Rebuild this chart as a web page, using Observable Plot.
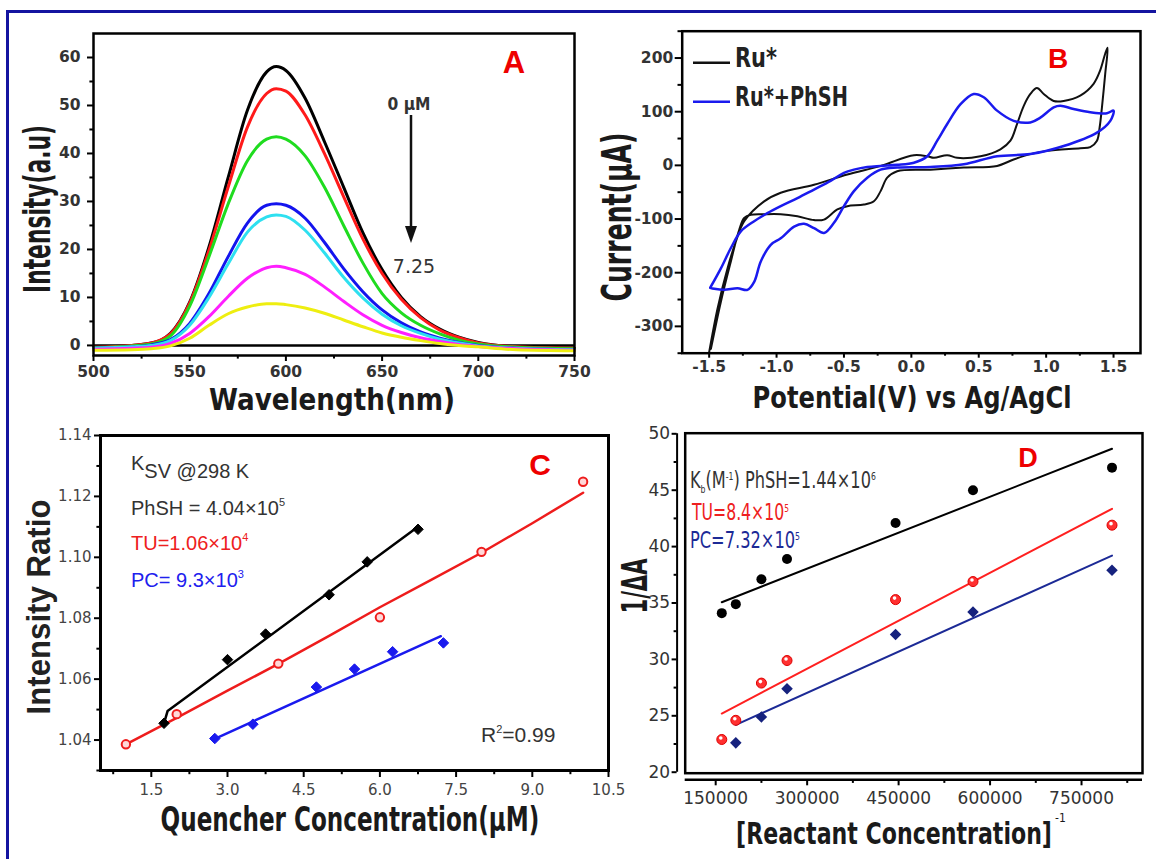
<!DOCTYPE html>
<html><head><meta charset="utf-8">
<script src="https://cdn.jsdelivr.net/npm/d3@7"></script>
<script src="https://cdn.jsdelivr.net/npm/@observablehq/plot@0.6"></script>
<style>
html,body{margin:0;padding:0;background:#fff;}
#page{position:relative;width:1156px;height:859px;overflow:hidden;background:#fff;}
#page svg{position:absolute;left:0;top:0;}
#border{position:absolute;left:6px;top:10px;width:1200px;height:900px;border-left:3px solid #1414a0;border-top:3px solid #1414a0;}
</style></head>
<body><div id="page"><div id="border"></div></div>
<script>
// ---------- Panel A : emission spectra ----------
const wavelengths = [500,520,530,540,550,560,570,580,590,595,600,610,620,630,640,650,660,670,680,690,700,720,750];
const specBlack   = [-0.4,0,0.5,2.5,9,20.5,35,49,57,58.1,57.3,51.5,42.5,33,23.5,15.8,10,6,3.4,1.7,0.6,-0.3,-0.6];
const specRed     = [-0.4,0,0.5,2.4,8.8,19.8,33,45.5,52.5,53.5,53,48,40,31,22.2,15,9.6,5.8,3.2,1.6,0.5,-0.3,-0.6];
const specGreen   = [-0.5,-0.1,0.3,2,8.2,18.5,29.5,38.5,43,43.5,43,39.5,33,25,17.2,10.8,6.8,4.2,2.4,1.1,0.3,-0.4,-0.7];
const specBlue    = [-0.6,-0.3,0.1,1.2,4.6,10.8,18.5,25.5,29.2,29.5,29.2,26.5,21.5,16,11.2,7.4,4.7,2.8,1.5,0.6,0,-0.6,-0.9];
const specCyan    = [-0.6,-0.3,0,1,4.2,10,17,23.6,26.8,27.2,26.9,24,19.3,14.2,9.9,6.5,4.1,2.5,1.3,0.5,-0.1,-0.6,-0.9];
const specMagenta = [-0.8,-0.6,-0.4,0.4,2.5,6,10.2,14,16.2,16.5,16.2,14.8,12.2,9.2,6.4,4.2,2.7,1.6,0.8,0.2,-0.2,-0.7,-1];
const specYellow  = [-1,-0.9,-0.7,-0.1,1.5,4.2,6.6,8,8.7,8.7,8.5,7.8,6.7,5.3,3.9,2.6,1.7,1,0.4,0,-0.3,-0.9,-1.1];
const specColors  = ["#000000","#ff1a1a","#1fdc1f","#1414ee","#2ee0f0","#ff1fff","#eeee10"];
const aXTicks = [500,550,600,650,700,750];
const aXMinor = [525,575,625,675,725];
const aYTicks = [0,10,20,30,40,50,60];
const aYMinor = [5,15,25,35,45,55];

// ---------- Panel B : cyclic voltammograms ----------
const cvRuV = [-1.50,-1.438,-1.364,-1.302,-1.240,-1.092,-0.969,-0.722,-0.475,-0.228,0.019,0.118,0.167,0.266,0.340,0.513,0.661,0.735,0.784,0.834,0.883,0.932,0.982,1.056,1.130,1.253,1.352,1.401,1.438,1.456,1.438,1.414,1.397,1.377,1.327,1.253,1.006,0.883,0.759,0.636,0.389,0.142,-0.105,-0.179,-0.228,-0.278,-0.352,-0.475,-0.549,-0.648,-0.722,-0.845,-0.969,-1.092,-1.191,-1.240,-1.277,-1.339,-1.413,-1.487];
const cvRuI = [-348,-267,-192,-142,-104,-67,-51,-36,-17,-1,19,17,14,19,14,17,30,46,77,111,133,144,133,120,120,130,152,177,208,219,170,108,71,46,34,32,27,21,11,-1,-4,-8,-11,-23,-48,-67,-73,-76,-82,-101,-102,-95,-91,-91,-92,-98,-120,-179,-254,-342];
const cvPhV = [-1.492,-1.413,-1.339,-1.265,-1.166,-1.068,-0.969,-0.845,-0.722,-0.599,-0.500,-0.426,-0.327,-0.228,-0.105,0.019,0.118,0.192,0.266,0.365,0.463,0.537,0.636,0.759,0.883,0.957,1.056,1.105,1.204,1.327,1.451,1.500,1.476,1.377,1.130,0.883,0.636,0.389,0.142,-0.105,-0.228,-0.327,-0.426,-0.500,-0.574,-0.648,-0.722,-0.796,-0.870,-0.969,-1.043,-1.117,-1.166,-1.216,-1.290,-1.388,-1.462,-1.492];
const cvPhI = [-228,-192,-154,-123,-104,-89,-76,-61,-45,-29,-14,-8,-3,-1,1,5,17,46,77,114,133,127,102,83,80,89,108,111,105,99,97,102,83,61,36,21,17,2,-3,-4,-8,-23,-48,-76,-107,-126,-117,-109,-114,-136,-148,-179,-217,-232,-229,-232,-230,-228];
const bXTicks = [-1.5,-1.0,-0.5,0.0,0.5,1.0,1.5];
const bXMinor = [-1.25,-0.75,-0.25,0.25,0.75,1.25];
const bYTicks = [-300,-200,-100,0,100,200];
const bYMinor = [-350,-250,-150,-50,50,150,250];

// ---------- Panel C : Stern-Volmer ----------
const cPhSHx = [1.75,3.0,3.75,5.0,5.75,6.75];
const cPhSHy = [1.0455,1.0664,1.0748,1.0877,1.0985,1.1092];
const cTUx   = [1.0,2.0,4.0,6.0,8.0,10.0];
const cTUy   = [1.0386,1.0485,1.0651,1.0803,1.1018,1.1248];
const cPCx   = [2.75,3.5,4.75,5.5,6.25,7.25];
const cPCy   = [1.0405,1.0452,1.0574,1.0633,1.0690,1.0719];
const cFitPhSHx = [1.75,1.82,6.75];
const cFitPhSHy = [1.0455,1.0495,1.1100];
const cFitTUx = [1.0,2.0,3.0,4.0,5.0,6.0,7.0,8.0,9.0,10.0];
const cFitTUy = [1.0386,1.0473,1.0562,1.0650,1.0742,1.0836,1.0925,1.1015,1.1112,1.1212];
const cFitPCx = [2.76,7.2];
const cFitPCy = [1.0405,1.0741];
const cXTicks = [1.5,3.0,4.5,6.0,7.5,9.0,10.5];
const cXMinor = [0.75,2.25,3.75,5.25,6.75,8.25,9.75];
const cYTicks = [1.04,1.06,1.08,1.10,1.12,1.14];
const cYMinor = [1.03,1.05,1.07,1.09,1.11,1.13];

// ---------- Panel D : Benesi-Hildebrand ----------
const dX     = [160000,183000,225000,267000,445000,572000,800000];
const dPhSH  = [34.1,34.9,37.1,38.9,42.1,45.0,47.0];
const dTU    = [22.9,24.6,27.9,29.9,35.3,36.9,41.9];
const dPCx   = [183000,225000,267000,445000,572000,800000];
const dPC    = [22.6,24.9,27.4,32.2,34.2,37.9];
const dFitPhSHx = [160000,800000], dFitPhSHy = [35.07,48.67];
const dFitTUx   = [160000,800000], dFitTUy   = [25.2,43.35];
const dFitPCx   = [183000,800000], dFitPCy   = [24.2,39.2];
const dXTicks = [150000,300000,450000,600000,750000];
const dXMinor = [225000,375000,525000,675000,825000];
const dYTicks = [20,25,30,35,40,45,50];
const dYMinor = [22.5,27.5,32.5,37.5,42.5,47.5];

// ---------- helpers ----------
const W = 1156, H = 859;
const SANS = "'DejaVu Sans', 'Liberation Sans', Arial, sans-serif";
const ARIAL = "'Liberation Sans', Arial, sans-serif";
const COND = "'DejaVu Sans Condensed', 'DejaVu Sans', sans-serif";
const hyph = s => s.replace(/\u2212/g, "-");
const f1 = v => hyph(d3.format(".1f")(v));
const f2 = v => hyph(d3.format(".2f")(v));
const fi = v => hyph(String(v));
const rows = (xs, ys) => xs.map((x, i) => ({x, y: ys[i]}));
const diamond = {draw(ctx, size) { const r = Math.sqrt(size / 2); ctx.moveTo(0, -r); ctx.lineTo(r, 0); ctx.lineTo(0, r); ctx.lineTo(-r, 0); ctx.closePath(); }};
const baseStyle = {background: "none", overflow: "visible", fontFamily: SANS};
function axes(xT, xM, yT, yM, o) {
  return [
    Plot.axisX(xT, {anchor: "bottom", tickSize: o.xts, tickPadding: o.xtp, tickFormat: o.xf, fontSize: o.fs, fontWeight: o.fw, fontFamily: SANS, fill: o.fill, stroke: "#000", strokeWidth: o.sw, label: null}),
    Plot.axisX(xM, {anchor: "bottom", tickSize: o.xts * 0.6, tickFormat: () => "", stroke: "#000", strokeWidth: o.sw, label: null}),
    Plot.axisY(yT, {anchor: "left", tickSize: o.yts, tickPadding: o.ytp, tickFormat: o.yf, fontSize: o.fs, fontWeight: o.fw, fontFamily: SANS, fill: o.fill, stroke: "#000", strokeWidth: o.sw, label: null}),
    Plot.axisY(yM, {anchor: "left", tickSize: o.yts * 0.6, tickFormat: () => "", stroke: "#000", strokeWidth: o.sw, label: null})
  ];
}
const page = document.getElementById("page");

// ---------- Panel A ----------
const spectra = [specBlack, specRed, specGreen, specBlue, specCyan, specMagenta, specYellow];
const plotA = Plot.plot({
  width: W, height: H, marginLeft: 93, marginRight: W - 574, marginTop: 33, marginBottom: H - 355,
  style: baseStyle,
  x: {domain: [500, 750], label: null},
  y: {domain: [-2.1, 65], label: null},
  marks: [
    Plot.ruleY([0], {stroke: "#000", strokeWidth: 2.5}),
    ...spectra.map((s, k) => Plot.line(rows(wavelengths, s), {x: "x", y: "y", stroke: specColors[k], strokeWidth: 3, curve: "monotone-x"})),
    Plot.frame({stroke: "#000", strokeWidth: 2.5}),
    ...axes(aXTicks, aXMinor, aYTicks, aYMinor, {xts: 6, xtp: 4, yts: 6, ytp: 7, xf: fi, yf: fi, fs: 15.5, fw: "bold", fill: "#333", sw: 2})
  ]
});
page.appendChild(plotA);

// ---------- Panel B ----------
const plotB = Plot.plot({
  width: W, height: H, marginLeft: 681.7, marginRight: W - 1140, marginTop: 30.7, marginBottom: H - 352.7,
  style: baseStyle,
  x: {domain: [-1.7, 1.7], label: null},
  y: {domain: [-350, 250], label: null},
  marks: [
    Plot.line(rows(cvRuV, cvRuI), {x: "x", y: "y", stroke: "#111", strokeWidth: 2, curve: "catmull-rom"}),
    Plot.line(rows(cvPhV, cvPhI), {x: "x", y: "y", stroke: "#1a1aee", strokeWidth: 2.5, curve: "catmull-rom"}),
    Plot.frame({stroke: "#000", strokeWidth: 2.5}),
    ...axes(bXTicks, bXMinor, bYTicks, bYMinor, {xts: 5, xtp: 3, yts: 7, ytp: 2, xf: f1, yf: fi, fs: 15.5, fw: "bold", fill: "#333", sw: 2})
  ]
});
page.appendChild(plotB);

// ---------- Panel C ----------
const plotC = Plot.plot({
  width: W, height: H, marginLeft: 100, marginRight: W - 608, marginTop: 435, marginBottom: H - 770,
  style: baseStyle,
  x: {domain: [0.5, 10.5], label: null},
  y: {domain: [1.03, 1.14], label: null},
  marks: [
    Plot.line(rows(cFitPhSHx, cFitPhSHy), {x: "x", y: "y", stroke: "#000", strokeWidth: 2.5}),
    Plot.line(rows(cFitTUx, cFitTUy), {x: "x", y: "y", stroke: "#ee1c1c", strokeWidth: 2.5}),
    Plot.line(rows(cFitPCx, cFitPCy), {x: "x", y: "y", stroke: "#1a1aee", strokeWidth: 2.5}),
    Plot.dot(rows(cPhSHx, cPhSHy), {x: "x", y: "y", symbol: diamond, r: 4.2, fill: "#000", stroke: "#000", strokeWidth: 1}),
    Plot.dot(rows(cTUx, cTUy), {x: "x", y: "y", r: 4.2, fill: "#ffd8d8", stroke: "#ee1c1c", strokeWidth: 2}),
    Plot.dot(rows(cPCx, cPCy), {x: "x", y: "y", symbol: diamond, r: 4.2, fill: "#1a1aee", stroke: "#1a1aee", strokeWidth: 1}),
    Plot.frame({stroke: "#000", strokeWidth: 3}),
    ...axes(cXTicks, cXMinor, cYTicks, cYMinor, {xts: 7, xtp: 7, yts: 6, ytp: 3, xf: f1, yf: f2, fs: 15, fw: "normal", fill: "#444", sw: 2})
  ]
});
page.appendChild(plotC);

// ---------- Panel D ----------
const dXDom = [100000, 850000], dYDom = [20, 50];
const plotD = Plot.plot({
  width: W, height: H, marginLeft: 676.6, marginRight: W - 1142, marginTop: 432.7, marginBottom: H - 779.3,
  style: baseStyle,
  x: {domain: dXDom, range: [684.7, 1142], label: null},
  y: {domain: dYDom, range: [771.7, 433.3], label: null},
  marks: [
    Plot.frame({stroke: "#000", strokeWidth: 2.5, insetLeft: 8.1, insetBottom: 6.6}),
    Plot.ruleX([dXDom[0]], {y1: dYDom[0], y2: dYDom[1], dx: -8.1, stroke: "#000", strokeWidth: 2}),
    Plot.ruleY([dYDom[0]], {x1: dXDom[0], x2: dXDom[1], dy: 7.6, stroke: "#000", strokeWidth: 2.5}),
    Plot.line(rows(dFitPhSHx, dFitPhSHy), {x: "x", y: "y", stroke: "#000", strokeWidth: 2}),
    Plot.line(rows(dFitTUx, dFitTUy), {x: "x", y: "y", stroke: "#ff2020", strokeWidth: 2}),
    Plot.line(rows(dFitPCx, dFitPCy), {x: "x", y: "y", stroke: "#1c2a96", strokeWidth: 2}),
    Plot.dot(rows(dX, dPhSH), {x: "x", y: "y", r: 5, fill: "#000"}),
    Plot.dot(rows(dX, dTU), {x: "x", y: "y", r: 5, fill: "#ff3030", stroke: "#dd0000", strokeWidth: 1}),
    Plot.dot(rows(dX, dTU), {x: "x", y: "y", r: 1.8, dx: -1, dy: -1.5, fill: "#fff"}),
    Plot.dot(rows(dPCx, dPC), {x: "x", y: "y", symbol: diamond, r: 4.6, fill: "#16227e"}),
    ...axes(dXTicks, dXMinor, dYTicks, dYMinor, {xts: 6, xtp: 6, yts: 5, ytp: 2, xf: fi, yf: fi, fs: 17, fw: "normal", fill: "#333", sw: 2})
  ]
});
page.appendChild(plotD);

// ---------- overlay texts ----------
const ov = d3.create("svg").attr("width", W).attr("height", H);
page.appendChild(ov.node());
function addText(x, y, parts, o = {}) {
  const t = ov.append("text").attr("x", 0).attr("y", 0)
    .attr("font-family", o.family || SANS).attr("font-size", o.size || 16)
    .attr("font-weight", o.weight || "normal").attr("fill", o.color || "#222")
    .attr("text-anchor", o.anchor || "start");
  let cur = 0;
  for (const p of [].concat(parts)) {
    const q = typeof p === "string" ? {t: p, shift: 0} : p;
    const s = q.shift || 0;
    const ts = t.append("tspan").text(q.t);
    if (s !== cur) { ts.attr("dy", s - cur); cur = s; }
    if (q.size) ts.attr("font-size", q.size);
  }
  let sx = 1;
  if (o.len) { const nat = t.node().getComputedTextLength(); if (nat > 0) sx = o.len / nat; }
  t.attr("transform", `translate(${x},${y})${o.rotate ? " rotate(-90)" : ""} scale(${sx.toFixed(4)},1)`);
  return t;
}
// Panel A
addText(50, 209, "Intensity(a.u)", {rotate: true, anchor: "middle", family: COND, weight: "bold", size: 38, len: 168, color: "#1a1a1a"});
addText(332, 410, "Wavelength(nm)", {anchor: "middle", family: COND, weight: "bold", size: 30, len: 246, color: "#1a1a1a"});
addText(514, 73, "A", {anchor: "middle", family: ARIAL, weight: "bold", size: 31, color: "#ee0000"});
addText(409, 110, "0 \u03bcM", {anchor: "middle", family: COND, weight: "bold", size: 18, len: 43, color: "#333"});
ov.append("line").attr("x1", 411).attr("x2", 411).attr("y1", 115).attr("y2", 232).attr("stroke", "#111").attr("stroke-width", 2.5);
ov.append("path").attr("d", "M405,226 L417,226 L411,243 Z").attr("fill", "#111");
addText(414, 273, "7.25", {anchor: "middle", family: SANS, size: 19, color: "#333"});
// Panel B
addText(631, 217, "Current(\u03bcA)", {rotate: true, anchor: "middle", family: COND, weight: "bold", size: 40, len: 169, color: "#1a1a1a"});
addText(912, 408, "Potential(V) vs Ag/AgCl", {anchor: "middle", family: COND, weight: "bold", size: 30, len: 319, color: "#1a1a1a"});
addText(1058, 68, "B", {anchor: "middle", family: ARIAL, weight: "bold", size: 28, color: "#ee0000"});
ov.append("line").attr("x1", 693).attr("x2", 730).attr("y1", 62.7).attr("y2", 62.7).attr("stroke", "#111").attr("stroke-width", 2.5);
ov.append("line").attr("x1", 693).attr("x2", 730).attr("y1", 101.7).attr("y2", 101.7).attr("stroke", "#1a1aee").attr("stroke-width", 2.5);
addText(735, 67, "Ru*", {family: COND, weight: "bold", size: 26, len: 42, color: "#222"});
addText(735, 106, "Ru*+PhSH", {family: COND, weight: "bold", size: 26, len: 113, color: "#222"});
// Panel C
addText(50, 607, "Intensity Ratio", {rotate: true, anchor: "middle", family: ARIAL, weight: "bold", size: 34, len: 215, color: "#222"});
addText(350, 831, "Quencher Concentration(\u03bcM)", {anchor: "middle", family: COND, weight: "bold", size: 34, len: 379, color: "#1a1a1a"});
addText(540, 475, "C", {anchor: "middle", family: ARIAL, weight: "bold", size: 30, color: "#ee0000"});
addText(131, 470, ["K", {t: "SV @298 K", shift: 8}], {family: ARIAL, size: 20, color: "#333"});
addText(131, 515, ["PhSH = 4.04\u00d710", {t: "5", shift: -9, size: 11}], {family: ARIAL, size: 20, color: "#333"});
addText(131, 550, ["TU=1.06\u00d710", {t: "4", shift: -9, size: 11}], {family: ARIAL, size: 20, color: "#ee2020"});
addText(131, 587, ["PC= 9.3\u00d710", {t: "3", shift: -9, size: 11}], {family: ARIAL, size: 20, color: "#2020ee"});
addText(481, 742, ["R", {t: "2", shift: -9, size: 11}, "=0.99"], {family: ARIAL, size: 21, color: "#333"});
// Panel D
addText(647, 586, "1/\u0394A", {rotate: true, anchor: "middle", family: COND, weight: "bold", size: 36, len: 55, color: "#1a1a1a"});
addText(894, 844, "[Reactant Concentration]", {anchor: "middle", family: COND, weight: "bold", size: 30, len: 316, color: "#1a1a1a"});
addText(1055, 822, "-1", {family: COND, size: 12, color: "#1a1a1a"});
addText(1028, 467, "D", {anchor: "middle", family: ARIAL, weight: "bold", size: 27, color: "#ee0000"});
addText(690, 488, ["K", {t: "b", shift: 5, size: 11}, "(M", {t: "-1", shift: -8, size: 11}, ") PhSH=1.44\u00d710", {t: "6", shift: -8, size: 11}], {family: COND, size: 23, len: 186, color: "#333"});
addText(692, 520, ["TU=8.4\u00d710", {t: "5", shift: -8, size: 11}], {family: COND, size: 23, len: 97, color: "#ee2020"});
addText(690, 548, ["PC=7.32\u00d710", {t: "5", shift: -8, size: 11}], {family: COND, size: 23, len: 110, color: "#1c2a96"});
</script>
</body></html>
